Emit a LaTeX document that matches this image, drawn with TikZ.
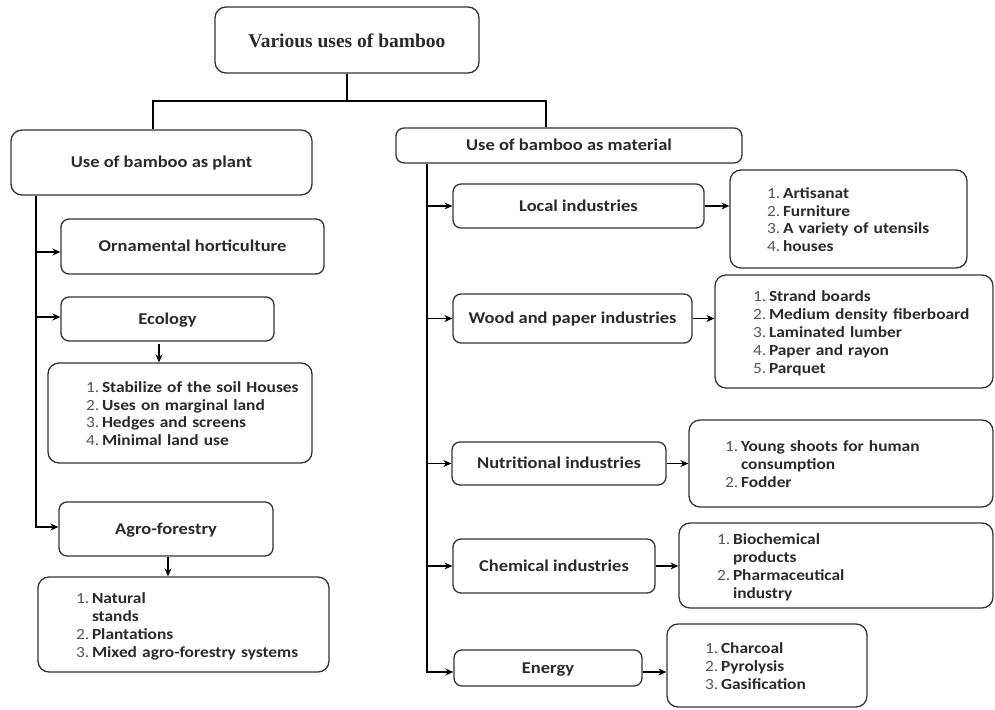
\documentclass[tikz,border=0pt]{standalone}
\usepackage{fontspec}
\setmainfont{Carlito}[FakeStretch=1.12]
\newfontfamily\titlefont{Liberation Serif}
\usetikzlibrary{arrows.meta}
\definecolor{txt}{HTML}{2A2A2A}
\definecolor{numc}{HTML}{555555}
\definecolor{brd}{HTML}{333333}
\setlength\parindent{0pt}
\newcommand\first{\leavevmode\rule{0pt}{17.5pt}}
\newcommand\li[2]{\leavevmode\rlap{\makebox[16pt][l]{\mdseries\color{numc}#1}\textbf{#2}\strut}}
\newcommand\lc[1]{\leavevmode\rlap{\hspace*{16pt}\textbf{#1}\strut}}
\begin{document}
\begin{tikzpicture}[x=1pt,y=-1pt,
  box/.style={draw=brd, line width=1.3pt, rounded corners=8pt, fill=white, inner sep=0pt, text=txt, text height=14pt, text depth=3.3pt, font=\fontsize{16.5}{20}\selectfont\bfseries},
  lbox/.style={draw=brd, line width=1.3pt, rounded corners=11pt, fill=white, inner ysep=0pt, text=txt, align=left, font=\fontsize{15.5}{17.8}\selectfont},
  arr/.style={line width=1.2pt, -{Stealth[length=8pt,width=7pt]}},
  trunk/.style={line width=2.6pt}]
\useasboundingbox (0,0) rectangle (995,709);
\fill[white] (0,0) rectangle (995,709);

% top
\node[box, rounded corners=11pt, minimum width=264, minimum height=66, text height=19pt, text depth=4pt, font=\titlefont\fontsize{19.5}{22}\selectfont\bfseries] (title) at (347,40) {Various uses of bamboo};
\node[box, rounded corners=11pt, minimum width=301, minimum height=65] (plant) at (161.5,162.5) {Use of bamboo as plant};
\node[box, minimum width=346, minimum height=35] (material) at (569,145.5) {Use of bamboo as material};

% left branch
\node[box, minimum width=263, minimum height=55] (orn) at (192.5,246.5) {Ornamental horticulture};
\node[box, minimum width=213, minimum height=44] (eco) at (167.5,319) {Ecology};
\node[lbox, minimum width=264, minimum height=100, text width=188, inner xsep=38] (ecolist) at (180,413)
  {\first\li{1.}{Stabilize of the soil Houses}\\\li{2.}{Uses on marginal land}\\\li{3.}{Hedges and screens}\\\li{4.}{Minimal land use}};
\node[box, minimum width=214, minimum height=54] (agro) at (166,529) {Agro-forestry};
\node[lbox, minimum width=291, minimum height=95, text width=215, inner xsep=38] (agrolist) at (183.5,624.5)
  {\first\li{1.}{Natural}\\\lc{stands}\\\li{2.}{Plantations}\\\li{3.}{Mixed agro-forestry systems}};

% right branch
\node[box, minimum width=251, minimum height=44] (local) at (578.5,206) {Local industries};
\node[lbox, minimum width=237, minimum height=98, text width=163, inner xsep=37] (loclist) at (848.5,219)
  {\first\li{1.}{Artisanat}\\\li{2.}{Furniture}\\\li{3.}{A variety of utensils}\\\li{4.}{houses}};
\node[box, minimum width=239, minimum height=49] (wood) at (572.5,318.5) {Wood and paper industries};
\node[lbox, minimum width=278, minimum height=113, text width=202, inner xsep=38] (woodlist) at (854,331.5)
  {\first\li{1.}{Strand boards}\\\li{2.}{Medium density fiberboard}\\\li{3.}{Laminated lumber}\\\li{4.}{Paper and rayon}\\\li{5.}{Parquet}};
\node[box, minimum width=214, minimum height=43] (nutri) at (559,463.5) {Nutritional industries};
\node[lbox, minimum width=304, minimum height=87, text width=232, inner xsep=36] (nutrilist) at (841,463.5)
  {\first\li{1.}{Young shoots for human}\\\lc{consumption}\\\li{2.}{Fodder}};
\node[box, minimum width=202, minimum height=54] (chem) at (554,566) {Chemical industries};
\node[lbox, minimum width=314, minimum height=85, text width=238, inner xsep=38] (chemlist) at (836,565.5)
  {\first\li{1.}{Biochemical}\\\lc{products}\\\li{2.}{Pharmaceutical}\\\lc{industry}};
\node[box, minimum width=188, minimum height=36] (energy) at (548,668) {Energy};
\node[lbox, minimum width=200, minimum height=83, text width=124, inner xsep=38] (energylist) at (767,665.5)
  {\first\li{1.}{Charcoal}\\\li{2.}{Pyrolysis}\\\li{3.}{Gasification}};

% trunk connectors
\coordinate (jl) at (153,101);
\coordinate (jr) at (546,101);
\draw[trunk] (title.south) -- (title.south |- jl);
\draw[trunk] (plant.north -| jl) -- (jl) -- (jr) -- (material.north -| jr);

% left connectors
\coordinate (lv) at (36,0);
\draw[arr] (plant.south -| lv) |- ([yshift=2pt]agro.west);
\draw[arr] ([yshift=-5.5pt]orn.west -| lv) -- ([yshift=-5.5pt]orn.west);
\draw[arr] ([yshift=2pt]eco.west -| lv) -- ([yshift=2pt]eco.west);
\coordinate (ed) at ([xshift=-8.5pt,yshift=-2pt]eco.south);
\draw[arr] (ed) -- (ed |- ecolist.north);
\coordinate (ad) at ([xshift=2pt]agro.south);
\draw[arr] (ad) -- (ad |- agrolist.north);

% right connectors
\coordinate (rv) at (427,0);
\coordinate (ein) at ([yshift=-4pt]energy.west);
\coordinate (eout) at ([yshift=-4pt]energy.east);
\draw[arr] (material.south -| rv) |- (ein);
\draw[arr] (local.west -| rv) -- (local.west);
\draw[arr] (wood.west -| rv) -- (wood.west);
\draw[arr] (nutri.west -| rv) -- (nutri.west);
\draw[arr] (chem.west -| rv) -- (chem.west);
\draw[arr] (local.east) -- (local.east -| loclist.west);
\draw[arr] (wood.east) -- (wood.east -| woodlist.west);
\draw[arr] (nutri.east) -- (nutri.east -| nutrilist.west);
\draw[arr] (chem.east) -- (chem.east -| chemlist.west);
\draw[arr] (eout) -- (eout -| energylist.west);
\end{tikzpicture}
\end{document}
